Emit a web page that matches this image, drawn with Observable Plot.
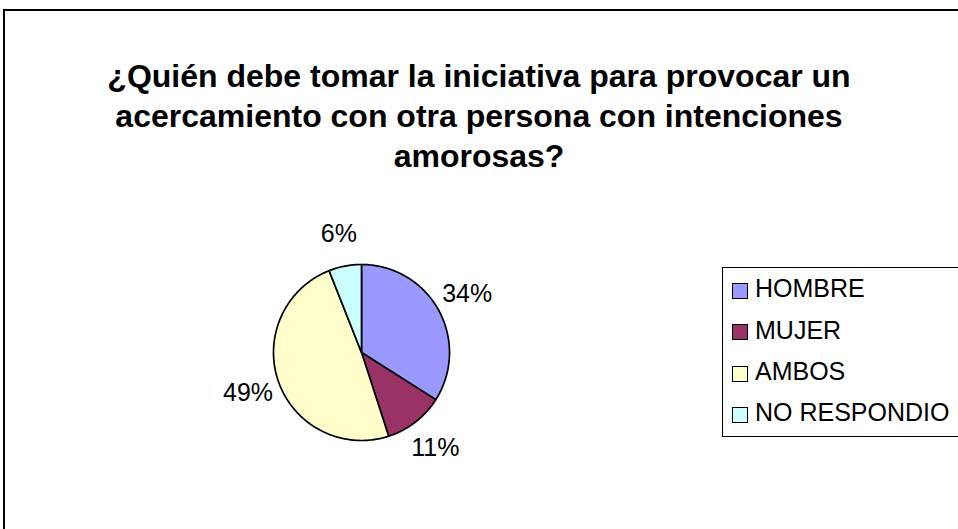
<!DOCTYPE html>
<html>
<head>
<meta charset="utf-8">
<script src="https://cdn.jsdelivr.net/npm/d3@7"></script>
<script src="https://cdn.jsdelivr.net/npm/@observablehq/plot@0.6"></script>
<style>
  body { margin: 0; background: #fff; font-family: "Liberation Sans", Arial, sans-serif; }
  #wrap { position: relative; width: 958px; height: 529px; overflow: hidden; background: #fff; }
  #frame { position: absolute; left: 3px; top: 9px; width: 1000px; height: 600px; border-top: 2px solid #000; border-left: 2px solid #000; }
  #title { position: absolute; left: 0; width: 958px; top: 56px; text-align: center; font-weight: bold; font-size: 32px; line-height: 40px; color: #000; }
  #plot { position: absolute; left: 0; top: 0; }
  #legendbox { position: absolute; left: 722px; top: 267px; width: 300px; height: 170px; border: 1px solid #000; box-sizing: border-box; }
  .txt { position: absolute; font-size: 25px; line-height: 25px; height: 25px; white-space: nowrap; color: #000; }
  .sw { position: absolute; width: 16px; height: 16px; border: 1.5px solid #000; box-sizing: border-box; }
</style>
</head>
<body>
<div id="wrap">
  <div id="frame"></div>
  <div id="title">¿Quién debe tomar la iniciativa para provocar un<br>acercamiento con otra persona con intenciones<br>amorosas?</div>
  <div id="plot"></div>
  <div id="legendbox"></div>
</div>
<script>
const categories = ["HOMBRE", "MUJER", "AMBOS", "NO RESPONDIO"];
const values = [34, 11, 49, 6];
const labels = ["34%", "11%", "49%", "6%"];
const colors = ["#9999FF", "#993366", "#FFFFCC", "#CCFFFF"];

const arcs = d3.pie().sort(null).value(d => d)(values);

// polygon vertices for each slice (angle measured clockwise from top)
const poly = [];
arcs.forEach((a, i) => {
  const name = categories[i];
  poly.push({name, x: 0, y: 0});
  const n = Math.max(2, Math.ceil((a.endAngle - a.startAngle) / (Math.PI / 180)));
  for (let k = 0; k <= n; k++) {
    const t = a.startAngle + (a.endAngle - a.startAngle) * k / n;
    poly.push({name, x: Math.sin(t), y: Math.cos(t)});
  }
  poly.push({name, x: 0, y: 0});
});

const labelR = 1.37;
const labelData = arcs.map((a, i) => {
  const m = (a.startAngle + a.endAngle) / 2;
  return {text: labels[i], x: labelR * Math.sin(m), y: labelR * Math.cos(m)};
});

const chart = Plot.plot({
  width: 958,
  height: 529,
  margin: 0,
  style: {background: "transparent", overflow: "visible"},
  x: {domain: [-1, 1], range: [273, 449], axis: null},
  y: {domain: [-1, 1], range: [440, 264], axis: null},
  color: {domain: categories, range: colors},
  marks: [
    Plot.line(poly, {x: "x", y: "y", z: "name", fill: "name", stroke: "#000", strokeWidth: 1.7, curve: "linear", strokeLinejoin: "round"}),
    Plot.text(labelData, {x: "x", y: "y", text: "text", fontSize: 25, fill: "#000", fontFamily: "Liberation Sans, Arial, sans-serif"})
  ]
});
document.getElementById("plot").appendChild(chart);

const wrap = document.getElementById("wrap");
categories.forEach((c, i) => {
  const base = 297 + i * 41.3;
  const sw = document.createElement("div");
  sw.className = "sw";
  sw.style.left = "732px";
  sw.style.top = (base - 14) + "px";
  sw.style.background = colors[i];
  wrap.appendChild(sw);
  const t = document.createElement("div");
  t.className = "txt";
  t.style.left = "755px";
  t.style.top = (base - 20.8) + "px";
  t.textContent = c;
  wrap.appendChild(t);
});
</script>
</body>
</html>
